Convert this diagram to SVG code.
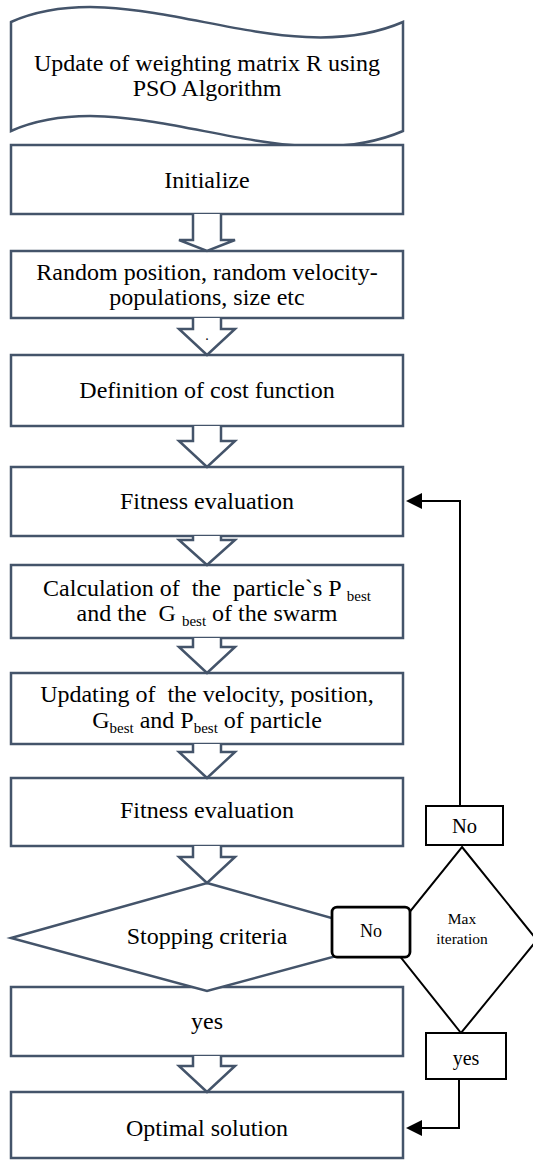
<svg xmlns="http://www.w3.org/2000/svg" width="533" height="1161" viewBox="0 0 533 1161">
<style>
.b{fill:#fff;stroke:#44546a;stroke-width:2.5;stroke-linejoin:miter}
.k{fill:#fff;stroke:#000;stroke-width:2}
.c{fill:none;stroke:#000;stroke-width:2}
.h{fill:#000;stroke:none}
text{font-family:'Liberation Serif','DejaVu Serif',serif;font-size:24px;text-anchor:middle;fill:#000}
.s{font-size:15px}
</style>
<rect width="533" height="1161" fill="#fff"/>
<g id="start">
<path class="b" d="M11,22 C130,-30 280,75 403,22 V131 C280,184 130,79 11,131 Z"/>
<text x="207" y="71">Update of weighting matrix R using</text>
<text x="207" y="96">PSO Algorithm</text>
</g>
<g id="initialize">
<rect class="b" x="11" y="145" width="392" height="69"/>
<text x="207" y="188">Initialize</text>
</g>
<g id="random">
<rect class="b" x="11" y="251" width="392" height="67"/>
<text x="207" y="280">Random position, random velocity-</text>
<text x="207" y="305">populations, size etc</text>
</g>
<g id="cost">
<rect class="b" x="11" y="355" width="392" height="71"/>
<text x="207" y="398">Definition of cost function</text>
</g>
<g id="fitness1">
<rect class="b" x="11" y="467" width="392" height="69"/>
<text x="207" y="509">Fitness evaluation</text>
</g>
<g id="calc">
<rect class="b" x="11" y="565" width="392" height="73"/>
<text x="207" y="596" xml:space="preserve">Calculation of  the  particle`s P <tspan class="s" dy="5">best</tspan></text>
<text x="207" y="621" xml:space="preserve">and the  G <tspan class="s" dy="5">best</tspan><tspan dy="-5"> of the swarm</tspan></text>
</g>
<g id="update">
<rect class="b" x="11" y="673" width="392" height="71"/>
<text x="207" y="702" xml:space="preserve">Updating of  the velocity, position,</text>
<text x="207" y="728">G<tspan class="s" dy="5">best</tspan><tspan dy="-5"> and P</tspan><tspan class="s" dy="5">best</tspan><tspan dy="-5"> of particle</tspan></text>
</g>
<g id="fitness2">
<rect class="b" x="11" y="778" width="392" height="68"/>
<text x="207" y="818">Fitness evaluation</text>
</g>
<g id="yesbox">
<rect class="b" x="11" y="987" width="392" height="69"/>
<text x="207" y="1029">yes</text>
</g>
<g id="stopping">
<polygon class="b" points="207,883 403,938 207,991 11,938"/>
<text x="207" y="944">Stopping criteria</text>
</g>
<g id="optimal">
<rect class="b" x="11" y="1092" width="392" height="66"/>
<text x="207" y="1136">Optimal solution</text>
</g>
<g id="maxiter">
<polygon class="k" points="462,847 537,940 461,1033 387,940"/>
<text x="462" y="924" style="font-size:15.5px">Max</text>
<text x="462" y="944" style="font-size:15.5px">iteration</text>
</g>
<g id="no-round">
<rect class="k" x="332" y="907" width="78" height="50" rx="5" style="stroke-width:2.75"/>
<text x="371" y="937" style="font-size:18px">No</text>
</g>
<g id="no-top">
<rect class="k" x="426" y="806" width="77" height="39"/>
<text x="464.5" y="833" style="font-size:20.5px">No</text>
</g>
<g id="yes-small">
<rect class="k" x="426" y="1033" width="80" height="46"/>
<text x="466" y="1065" style="font-size:20px">yes</text>
</g>
<g id="connectors">
<path class="b" d="M193,214 V240 H179 L207,251 L235,240 H221 V214"/>
<path class="b" d="M193,318 V329 H179 L207,355 L235,329 H221 V318"/>
<path class="b" d="M193,426 V441 H179 L207,467 L235,441 H221 V426"/>
<path class="b" d="M193,536 V540 H179 L207,565 L235,540 H221 V536"/>
<path class="b" d="M193,638 V647 H179 L207,673 L235,647 H221 V638"/>
<path class="b" d="M193,744 V752 H179 L207,778 L235,752 H221 V744"/>
<path class="b" d="M193,846 V857 H179 L207,883 L235,857 H221 V846"/>
<path class="b" d="M193,1056 V1066 H179 L207,1092 L235,1066 H221 V1056"/>
<text x="207" y="340" style="font-size:14px">.</text>
<path class="c" d="M460,806 V501 H420"/>
<polygon class="h" points="406,501 422,493 422,509"/>
<path class="c" d="M459,1079 V1128 H420"/>
<polygon class="h" points="406,1128 422,1120 422,1136"/>
</g>
</svg>
